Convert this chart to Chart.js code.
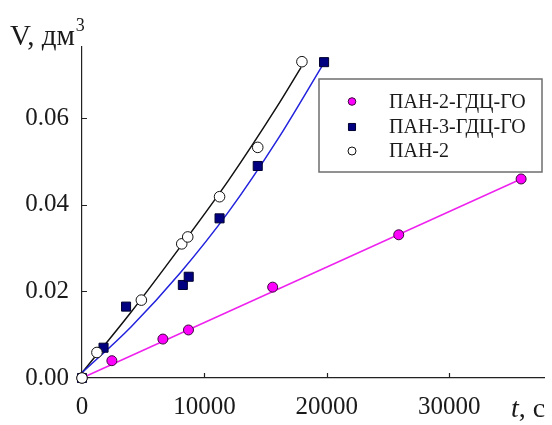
<!DOCTYPE html>
<html><head><meta charset="utf-8">
<script src="https://cdn.jsdelivr.net/npm/chart.js@4/dist/chart.umd.min.js"></script>
<style>html,body{margin:0;padding:0;background:#fff}#wrap{width:552px;height:425px;position:relative}</style>
</head><body><div id="wrap"><canvas id="c"></canvas></div>
<script>
const seriesNames = ['ПАН-2-ГДЦ-ГО', 'ПАН-3-ГДЦ-ГО', 'ПАН-2'];
const pan2gdcT = [0, 2440, 6610, 8700, 15580, 25880, 35880];
const pan2gdcV = [0, 0.0040, 0.0090, 0.0111, 0.0210, 0.0331, 0.0460];
const pan3gdcT = [0, 1760, 3600, 8240, 8720, 11240, 14360, 19780];
const pan3gdcV = [0, 0.0070, 0.0165, 0.0215, 0.0234, 0.0369, 0.0490, 0.0730];
const pan2T = [0, 1220, 4850, 8150, 8640, 11240, 14360, 17970];
const pan2V = [0, 0.0059, 0.0180, 0.0310, 0.0326, 0.0419, 0.0533, 0.0731];
// fitted curves
const fit1T = [0, 35880];
const fit1V = [0, 0.0460];
const fit2T = [0, 4000, 8000, 12000, 16000, 19700];
const fit2V = [0.0012, 0.0118, 0.0242, 0.0385, 0.0552, 0.0725];
const fit3T = [0, 4000, 8000, 12000, 16000, 17900];
const fit3V = [0.0012, 0.0152, 0.0302, 0.0458, 0.0630, 0.0718];
const xTicks = [0, 10000, 20000, 30000];
const yTicks = [0, 0.02, 0.04, 0.06];
const xMax = 37800, yMax = 0.0765;

const pts = (xs, ys) => xs.map((x, i) => ({x: x, y: ys[i]}));
const SERIF = '"Liberation Serif", serif';

const markerStyles = [
  {pointStyle: 'circle', radius: 5, bg: '#ff00ff', border: '#3a0a3a'},
  {pointStyle: 'rect', radius: 6.4, bg: '#000080', border: '#000030'},
  {pointStyle: 'circle', radius: 5.3, bg: '#ffffff', border: '#111111'}
];

function scatterDs(i, xs, ys, order) {
  const m = markerStyles[i];
  return {
    type: 'scatter', label: seriesNames[i], data: pts(xs, ys), order: order,
    pointStyle: m.pointStyle, pointRadius: m.radius, pointHoverRadius: m.radius,
    backgroundColor: m.bg, borderColor: m.border, borderWidth: 1, showLine: false, clip: false
  };
}
function lineDs(xs, ys, color) {
  return {
    type: 'line', label: '', data: pts(xs, ys), order: 10,
    borderColor: color, borderWidth: 1.5, pointRadius: 0, fill: false,
    cubicInterpolationMode: 'monotone', clip: false
  };
}

const tickPlugin = {
  id: 'inTicks',
  beforeDatasetsDraw(chart) {
    const {ctx, chartArea, scales} = chart;
    ctx.save();
    ctx.strokeStyle = '#222';
    ctx.lineWidth = 1.2;
    ctx.beginPath();
    xTicks.forEach(v => { if (v === 0) return; const px = Math.round(scales.x.getPixelForValue(v)) + 0.5;
      ctx.moveTo(px, chartArea.bottom); ctx.lineTo(px, chartArea.bottom - 5); });
    yTicks.forEach(v => { if (v === 0) return; const py = Math.round(scales.y.getPixelForValue(v)) + 0.5;
      ctx.moveTo(chartArea.left, py); ctx.lineTo(chartArea.left + 5, py); });
    ctx.stroke();
    ctx.restore();
  }
};

const textPlugin = {
  id: 'axisText',
  afterDraw(chart) {
    const ctx = chart.ctx;
    ctx.save();
    ctx.fillStyle = '#1a1a1a';
    ctx.textBaseline = 'alphabetic';
    ctx.textAlign = 'left';
    ctx.font = '29px ' + SERIF;
    ctx.fillText('V, дм', 10, 45);
    const w = ctx.measureText('V, дм').width;
    ctx.font = '18px ' + SERIF;
    ctx.fillText('3', 10 + w + 1, 31);
    ctx.font = 'italic 28px ' + SERIF;
    ctx.fillText('t', 511, 417);
    const tw = ctx.measureText('t').width;
    ctx.font = '28px ' + SERIF;
    ctx.fillText(', c', 511 + tw, 417);
    ctx.restore();
  }
};

const legendPlugin = {
  id: 'boxLegend',
  afterDraw(chart) {
    const ctx = chart.ctx;
    const box = {l: 319, t: 79, r: 542, b: 172};
    ctx.save();
    ctx.fillStyle = '#fff';
    ctx.fillRect(box.l, box.t, box.r - box.l, box.b - box.t);
    ctx.strokeStyle = '#6e6e6e';
    ctx.lineWidth = 1.5;
    ctx.strokeRect(box.l, box.t, box.r - box.l, box.b - box.t);
    const rows = [101.5, 127, 151];
    const legendRadius = [3.8, 5, 4];
    seriesNames.forEach((name, i) => {
      const m = markerStyles[i];
      ctx.fillStyle = m.bg; ctx.strokeStyle = m.border; ctx.lineWidth = 1;
      Chart.helpers.drawPoint(ctx, {pointStyle: m.pointStyle, rotation: 0, radius: legendRadius[i], borderWidth: 1}, 352, rows[i]);
      ctx.fillStyle = '#1a1a1a';
      ctx.font = '20px ' + SERIF;
      ctx.textBaseline = 'middle';
      ctx.textAlign = 'left';
      ctx.fillText(name, 389, rows[i] + 1);
    });
    ctx.restore();
  }
};

new Chart(document.getElementById('c'), {
  type: 'scatter',
  data: {
    datasets: [
      lineDs(fit1T, fit1V, '#ee22ee'),
      lineDs(fit2T, fit2V, '#2222dd'),
      lineDs(fit3T, fit3V, '#111111'),
      scatterDs(0, pan2gdcT, pan2gdcV, 3),
      scatterDs(1, pan3gdcT, pan3gdcV, 2),
      scatterDs(2, pan2T, pan2V, 1)
    ]
  },
  options: {
    responsive: true, maintainAspectRatio: false, animation: false,
    layout: {padding: {left: 0, top: 47, right: 5, bottom: 0}},
    plugins: {legend: {display: false}, tooltip: {enabled: false}},
    scales: {
      x: {
        type: 'linear', min: 0, max: xMax,
        grid: {display: false, drawTicks: false},
        border: {display: true, color: '#222', width: 1.2},
        afterBuildTicks: s => { s.ticks = xTicks.map(v => ({value: v})); },
        afterFit: s => { s.height = 47; },
        ticks: {padding: 14, color: '#1a1a1a', font: {family: SERIF, size: 25}, callback: v => String(v), maxRotation: 0, autoSkip: false}
      },
      y: {
        type: 'linear', min: 0, max: yMax,
        grid: {display: false, drawTicks: false},
        border: {display: true, color: '#222', width: 1.2},
        afterBuildTicks: s => { s.ticks = yTicks.map(v => ({value: v})); },
        afterFit: s => { s.width = 82; },
        ticks: {padding: 13, color: '#1a1a1a', font: {family: SERIF, size: 25}, callback: v => Number(v).toFixed(2), autoSkip: false}
      }
    }
  },
  plugins: [tickPlugin, textPlugin, legendPlugin]
});
</script></body></html>
